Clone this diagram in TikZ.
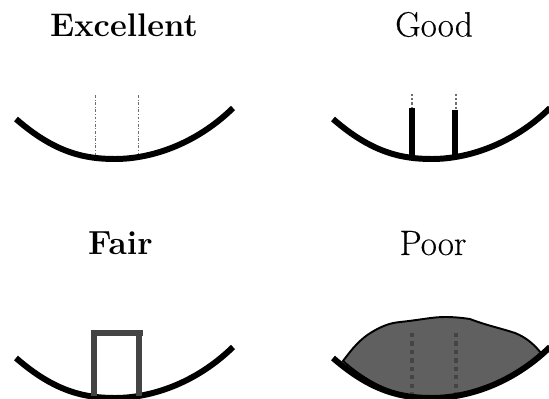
\documentclass[tikz,border=0pt]{standalone}
\usepackage{fontspec}
\usepackage{xcolor}
\usepackage{tikz}
\usetikzlibrary{arrows.meta, positioning, calc}
\definecolor{mydark}{RGB}{68,68,68}
\definecolor{myfill}{RGB}{96,96,96}
\definecolor{mydash}{RGB}{110,110,110}
\newfontfamily\titlefont[FakeBold=0.25]{Latin Modern Roman}
\tikzstyle{bowl}  = [black, line width=3.4pt]
\tikzstyle{title} = [font=\titlefont\fontsize{20}{22}\selectfont, inner sep=0pt, anchor=base]
\tikzstyle{hair}  = [mydash, line width=0.45pt, dash pattern=on 1.6pt off 1pt on 0.5pt off 1pt]
\tikzstyle{tip}   = [mydash, line width=0.8pt, dash pattern=on 1.2pt off 1.2pt]
\tikzstyle{stem}  = [black, line width=3.2pt]
\tikzstyle{wall}  = [mydark, line width=3.2pt, line cap=butt]
\newcommand{\bowlcurve}[2]{
    \draw[bowl] (16+#1,119+#2) .. controls (55+#1,153+#2) and (85+#1,159+#2) .. (115+#1,159+#2)
                .. controls (150+#1,159+#2) and (195+#1,145+#2) .. (233+#1,108+#2);
}
\begin{document}
\begin{tikzpicture}[x=0.02cm, y=-0.02cm]
    \useasboundingbox (0,0) rectangle (549,399);
    \clip (0,0) rectangle (549,399);

    \node[title, font=\fontsize{18.6}{22}\selectfont\bfseries] (excellent) at (124,36.5) {Excellent};
    \node[title] (good) at (434,36.5) {Good};
    \node[title, font=\fontsize{19}{22}\selectfont\bfseries] (fair) at (120.5,255) {Fair};
    \node[title] (poor) at (433,255) {Poor};

    % top left
    \draw[hair] (95,95) -- (95,156);
    \draw[hair] (138,95) -- (138,156);
    \bowlcurve{0}{0}

    % top right
    \draw[tip] (412,94) -- (412,108);
    \draw[tip] (456,94) -- (456,110);
    \draw[stem] (412,108) -- (412,156);
    \draw[stem] (455,110) -- (455,156);
    \bowlcurve{317}{0}

    % bottom left
    \bowlcurve{0}{239}
    \draw[wall] (94,396) -- (94,333) -- (143,333);
    \draw[wall] (139,333) -- (139,396);

    % bottom right
    \draw[black, line width=1.1pt, fill=myfill] (343,361)
        .. controls (352,349) and (360,339) .. (372,332)
        .. controls (382,326) and (390,323) .. (400,322)
        .. controls (420,320) and (432,317) .. (445,317)
        .. controls (455,317) and (463,318) .. (470,319)
        .. controls (485,325) and (500,328) .. (515,333)
        .. controls (525,337) and (533,343) .. (541,353)
        .. controls (510,380) and (480,398) .. (432,398)
        .. controls (400,398) and (370,385) .. (343,361) -- cycle;
    \draw[mydark, line width=2.4pt, dash pattern=on 2.4pt off 2.4pt] (412,333) -- (412,398);
    \draw[mydark, line width=2.4pt, dash pattern=on 2.4pt off 2.4pt] (456,333) -- (456,398);
    \bowlcurve{317}{239}
\end{tikzpicture}
\end{document}
